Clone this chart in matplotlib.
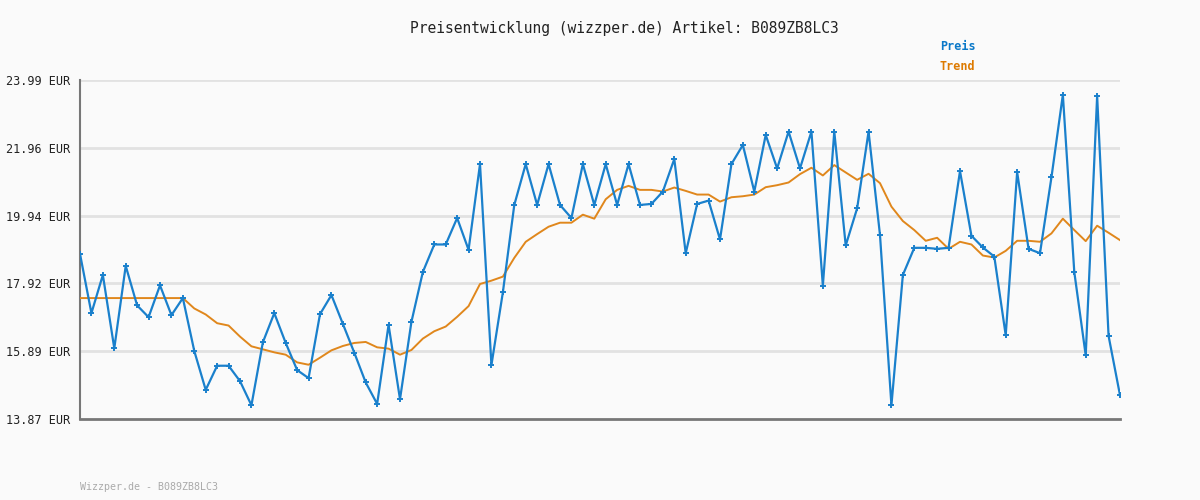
import matplotlib
matplotlib.use("Agg")
import matplotlib.pyplot as plt
import numpy as np

# price history (EUR)
preis = [18.80, 17.03, 18.17, 15.98, 18.44, 17.26, 16.91, 17.86, 16.97, 17.48,
         15.90, 14.74, 15.46, 15.46, 15.00, 14.28, 16.16, 17.03, 16.14, 15.33,
         15.09, 17.00, 17.57, 16.71, 15.85, 14.96, 14.32, 16.68, 14.46, 16.77,
         18.26, 19.08, 19.08, 19.87, 18.92, 21.48, 15.48, 17.65, 20.26, 21.48,
         20.26, 21.48, 20.26, 19.87, 21.48, 20.26, 21.48, 20.26, 21.48, 20.26,
         20.29, 20.66, 21.63, 18.82, 20.29, 20.39, 19.23, 21.48, 22.05, 20.66,
         22.35, 21.35, 22.45, 21.35, 22.45, 17.85, 22.45, 19.05, 20.16, 22.45,
         19.36, 14.28, 18.17, 18.98, 18.98, 18.95, 18.98, 21.27, 19.34, 18.99,
         18.72, 16.37, 21.24, 18.95, 18.82, 21.08, 23.55, 18.26, 15.77, 23.51,
         16.35, 14.58]

trend = [17.48, 17.48, 17.48, 17.48, 17.48, 17.48, 17.48, 17.48, 17.48, 17.48,
         17.17, 16.99, 16.73, 16.66, 16.33, 16.04, 15.95, 15.86, 15.79, 15.56,
         15.49, 15.70, 15.92, 16.05, 16.14, 16.17, 16.01, 15.97, 15.79, 15.93,
         16.27, 16.49, 16.63, 16.92, 17.24, 17.90, 18.00, 18.12, 18.68, 19.16,
         19.39, 19.61, 19.73, 19.73, 19.97, 19.85, 20.43, 20.71, 20.83, 20.71,
         20.71, 20.66, 20.78, 20.68, 20.57, 20.57, 20.36, 20.49, 20.52, 20.57,
         20.79, 20.85, 20.93, 21.18, 21.37, 21.14, 21.45, 21.23, 21.01, 21.19,
         20.91, 20.21, 19.78, 19.51, 19.19, 19.28, 18.95, 19.16, 19.08, 18.75,
         18.69, 18.89, 19.19, 19.19, 19.16, 19.41, 19.85, 19.51, 19.18, 19.64,
         19.43, 19.21]

yticks = [13.87, 15.89, 17.92, 19.94, 21.96, 23.99]
artikel = "B089ZB8LC3"

BLUE = '#1a80cc'
ORANGE = '#e0871c'
MONO = ['DejaVu Sans Mono']

fig = plt.figure(figsize=(12, 5), dpi=100, facecolor='#fafafa')
ax = fig.add_axes([80/1200, 1 - 419/500, 1040/1200, 339/500])
ax.set_facecolor('#fafafa')

x = np.arange(len(preis))
ax.plot(x, trend, color=ORANGE, lw=1.4, zorder=3)
ax.plot(x, preis, color=BLUE, lw=1.6, marker='+', ms=4, mew=1.4, zorder=4)

ax.set_xlim(0, len(preis) - 1)
ax.set_ylim(yticks[0], yticks[-1])
ax.set_yticks(yticks)
ax.set_yticklabels(['%.2f EUR' % v for v in yticks], family=MONO,
                   fontsize=8.5, color='#222222')
ax.set_xticks([])
ax.tick_params(axis='y', length=0, pad=7)
for v in yticks[1:]:
    ax.axhline(v, color='#e2e2e2', lw=2, zorder=1)

for s in ['top', 'right']:
    ax.spines[s].set_visible(False)
ax.spines['left'].set_color('#777777')
ax.spines['left'].set_linewidth(1.5)
ax.spines['bottom'].set_color('#777777')
ax.spines['bottom'].set_linewidth(2)

fig.text(624/1200, 1 - 28/500, 'Preisentwicklung (wizzper.de) Artikel: ' + artikel,
         ha='center', va='center', family=MONO, fontsize=10.5, color='#222222')
fig.text(940/1200, 1 - 47/500, 'Preis', ha='left', va='center', family=MONO,
         fontsize=8.5, color='#0a78c8', weight='bold')
fig.text(940/1200, 1 - 67/500, 'Trend', ha='left', va='center', family=MONO,
         fontsize=8.5, color='#dd7a00', weight='bold')
fig.text(80/1200, 1 - 487/500, 'Wizzper.de - ' + artikel, ha='left', va='center',
         family=MONO, fontsize=7.2, color='#aaaaaa')

fig.savefig('out.png', dpi=100, facecolor=fig.get_facecolor())
